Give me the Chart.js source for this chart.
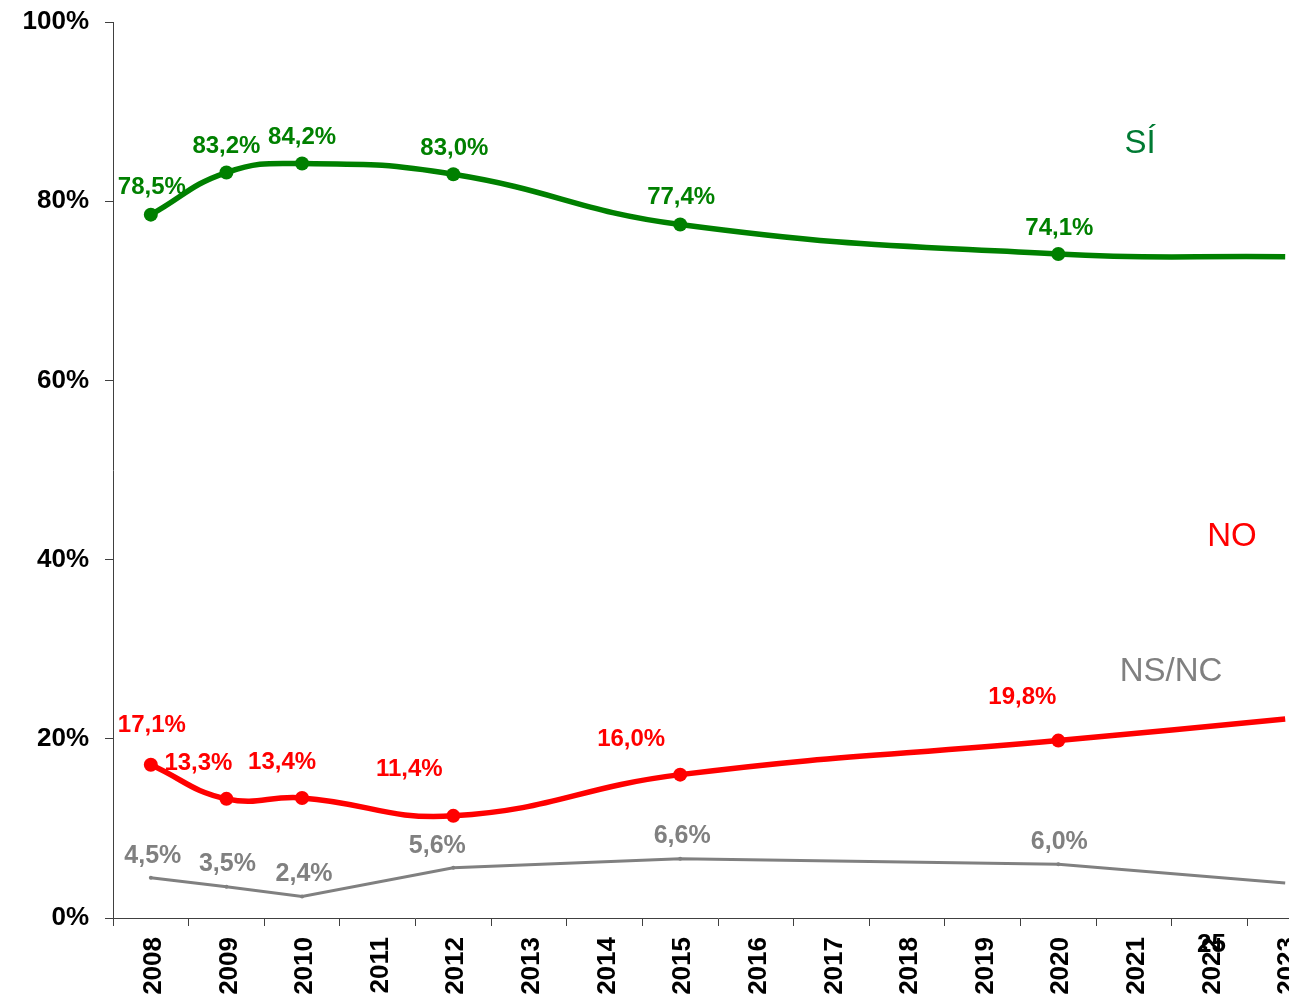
<!DOCTYPE html>
<html>
<head>
<meta charset="utf-8">
<script src="https://cdn.jsdelivr.net/npm/chart.js@4/dist/chart.umd.min.js"></script>
<style>
  html, body { margin: 0; padding: 0; background: #fff; overflow: hidden; }
  #wrap { position: relative; width: 1289px; height: 1000px; overflow: hidden; }
  #pageNum { position: absolute; left: 1197px; top: 928px; font: bold 26px Arial, "Liberation Sans", sans-serif; color: #000; z-index: 2; }
</style>
</head>
<body>
<div id="wrap">
  <canvas id="chart" width="1330" height="1000"></canvas>
  <div id="pageNum">25</div>
</div>
<script>
// categories
const years = ['2008','2009','2010','2011','2012','2013','2014','2015','2016','2017','2018','2019','2020','2021','2022','2023'];
// series values (%), null where there was no survey
const siValues   = [78.5, 83.2, 84.2, null, 83.0, null, null, 77.4, null, null, null, null, 74.1, null, null, 73.8];
const noValues   = [17.1, 13.3, 13.4, null, 11.4, null, null, 16.0, null, null, null, null, 19.8, null, null, 22.2];
const nsncValues = [4.5, 3.5, 2.4, null, 5.6, null, null, 6.6, null, null, null, null, 6.0, null, null, 3.9];
// which points carry a printed value
const labelled = [true, true, true, false, true, false, false, true, false, false, false, false, true, false, false, false];
const yTicks = [0, 20, 40, 60, 80, 100];

const FONT = 'Arial, "Liberation Sans", sans-serif';
const GREEN = '#008000';
const RED = '#ff0000';
const GREY = '#808080';

// label placement relative to each point [dx, dy]
const siOffsets   = {0:[1,-27], 1:[0,-26], 2:[0,-26], 4:[1,-26], 7:[1,-27], 12:[1,-26]};
const noOffsets   = {0:[1,-39], 1:[-28,-35], 2:[-20,-36], 4:[-44,-46], 7:[-49,-35], 12:[-36,-43]};
const nsncOffsets = {0:[2,-22], 1:[1,-23], 2:[2,-22], 4:[-16,-22], 7:[2,-23], 12:[1,-22]};

const fmt = v => v.toFixed(1).replace('.', ',') + '%';

const valueLabels = {
  id: 'valueLabels',
  afterDatasetsDraw(chart) {
    const ctx = chart.ctx;
    ctx.save();
    ctx.textAlign = 'center';
    ctx.textBaseline = 'middle';
    chart.data.datasets.forEach((ds, i) => {
      const meta = chart.getDatasetMeta(i);
      ctx.fillStyle = ds.borderColor;
      ctx.font = ds.labelFont;
      meta.data.forEach((pt, j) => {
        const v = ds.data[j];
        if (v == null || !labelled[j]) return;
        const off = ds.labelOffsets[j] || [0, -24];
        ctx.fillText(fmt(v), pt.x + off[0], pt.y + off[1]);
      });
    });
    // series names
    ctx.font = '33px ' + FONT;
    ctx.fillStyle = '#007a33';
    ctx.fillText('SÍ', 1140, 144);
    ctx.fillStyle = RED;
    ctx.fillText('NO', 1232, 537);
    ctx.fillStyle = GREY;
    ctx.fillText('NS/NC', 1171, 672);
    ctx.restore();
  }
};

const lastIdx = years.length - 1;

new Chart(document.getElementById('chart'), {
  type: 'line',
  data: {
    labels: years,
    datasets: [
      {
        label: 'SÍ',
        data: siValues,
        borderColor: GREEN,
        backgroundColor: GREEN,
        borderWidth: 5.5,
        tension: 0.45,
        spanGaps: true,
        pointRadius: c => c.dataIndex === lastIdx ? 0 : 7,
        pointBorderWidth: 0,
        labelFont: 'bold 24px ' + FONT,
        labelOffsets: siOffsets
      },
      {
        label: 'NO',
        data: noValues,
        borderColor: RED,
        backgroundColor: RED,
        borderWidth: 5.5,
        tension: 0.45,
        spanGaps: true,
        pointRadius: c => c.dataIndex === lastIdx ? 0 : 7,
        pointBorderWidth: 0,
        labelFont: 'bold 24px ' + FONT,
        labelOffsets: noOffsets
      },
      {
        label: 'NS/NC',
        data: nsncValues,
        borderColor: GREY,
        backgroundColor: GREY,
        borderWidth: 3,
        tension: 0,
        spanGaps: true,
        pointRadius: c => c.dataIndex === lastIdx ? 0 : 2,
        pointBorderWidth: 0,
        labelFont: 'bold 25px ' + FONT,
        labelOffsets: nsncOffsets
      }
    ]
  },
  options: {
    responsive: false,
    animation: false,
    layout: { padding: { top: 22, right: 0, left: 0, bottom: 0 } },
    plugins: {
      legend: { display: false },
      tooltip: { enabled: false }
    },
    scales: {
      x: {
        offset: true,
        grid: { offset: true, drawOnChartArea: false, tickLength: 8, color: '#404040', lineWidth: 1 },
        border: { color: '#404040', width: 1 },
        ticks: {
          minRotation: 90, maxRotation: 90, autoSkip: false, padding: 11, labelOffset: 3,
          color: '#000', font: { family: FONT, size: 26, weight: 'bold' }
        },
        afterFit: s => { s.height = 82; }
      },
      y: {
        min: 0, max: 100,
        afterBuildTicks: s => { s.ticks = yTicks.map(v => ({ value: v })); },
        grid: { drawOnChartArea: false, tickLength: 8, color: '#404040', lineWidth: 1 },
        border: { color: '#404040', width: 1 },
        ticks: {
          padding: 16, color: '#000',
          font: { family: FONT, size: 26, weight: 'bold' },
          callback: v => v + '%'
        },
        afterFit: s => { s.width = 113; s.paddingTop = 0; s.paddingBottom = 0; }
      }
    }
  },
  plugins: [valueLabels]
});
</script>
</body>
</html>
